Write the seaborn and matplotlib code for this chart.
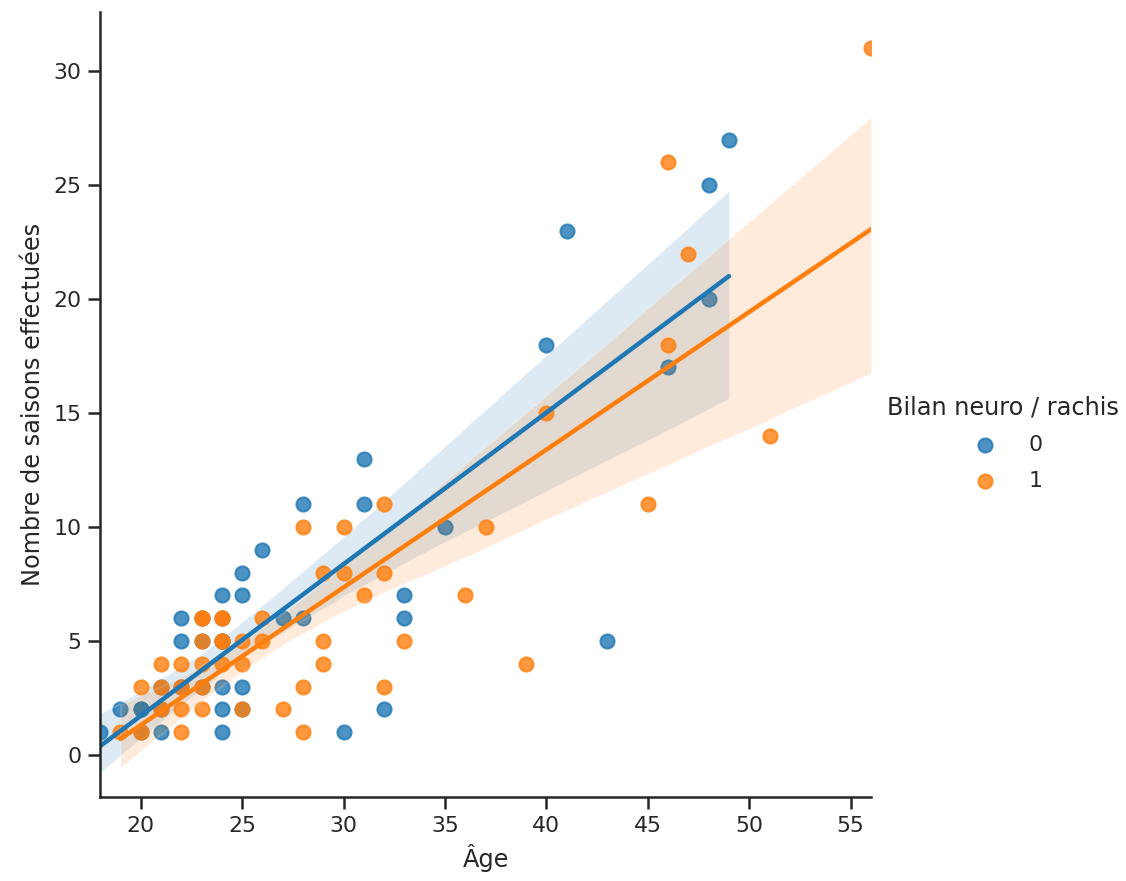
import numpy as np
import pandas as pd
import matplotlib
matplotlib.use("Agg")
import matplotlib.pyplot as plt
import seaborn as sns

# Group 0 (Bilan neuro / rachis = 0)
age_0 = [18, 19, 20, 20, 20, 21, 21, 21, 22, 22, 22, 23, 23, 23, 24, 24, 24,
         24, 24, 24, 24, 25, 25, 25, 25, 26, 27, 28, 28, 30, 31, 31, 32, 33, 33,
         35, 40, 41, 43, 46, 48, 48, 49]
seasons_0 = [1, 2, 1, 2, 2, 1, 2, 3, 3, 5, 6, 3, 5, 6, 1, 2, 3,
             5, 5, 6, 7, 2, 3, 7, 8, 9, 6, 6, 11, 1, 11, 13, 2, 6, 7,
             10, 18, 23, 5, 17, 20, 25, 27]

# Group 1 (Bilan neuro / rachis = 1)
age_1 = [19, 20, 20, 21, 21, 21, 22, 22, 22, 22, 23, 23, 23, 23, 23, 23, 24, 24,
         24, 24, 24, 25, 25, 25, 26, 26, 27, 28, 28, 28, 29, 29, 29, 30, 30, 31,
         32, 32, 32, 33, 36, 37, 39, 40, 45, 46, 46, 47, 51, 56]
seasons_1 = [1, 1, 3, 2, 3, 4, 1, 2, 3, 4, 2, 3, 4, 5, 6, 6, 4, 5,
             5, 6, 6, 2, 4, 5, 5, 6, 2, 1, 3, 10, 4, 5, 8, 8, 10, 7,
             3, 8, 11, 5, 7, 10, 4, 15, 11, 18, 26, 22, 14, 31]

df = pd.DataFrame({
    "Âge": age_0 + age_1,
    "Nombre de saisons effectuées": seasons_0 + seasons_1,
    "Bilan neuro / rachis": [0] * len(age_0) + [1] * len(age_1),
})

sns.set_theme(context="notebook", style="ticks", palette="tab10")
plt.rcParams["font.family"] = ["DejaVu Sans"]
plt.rcParams["legend.labelspacing"] = 0.7
plt.rcParams["legend.handletextpad"] = 1.0

g = sns.lmplot(data=df, x="Âge", y="Nombre de saisons effectuées",
               hue="Bilan neuro / rachis", height=6, aspect=1, seed=3,
               scatter_kws={"s": 50})
fig = g.figure
fig.set_size_inches(1126 / 144, 881 / 144)
ax = g.ax
ax.set_xlim(18, 56)
ax.set_ylim(-1.85, 32.6)
ax.set_xticks([20, 25, 30, 35, 40, 45, 50, 55])
ax.set_yticks([0, 5, 10, 15, 20, 25, 30])
fig.subplots_adjust(left=0.089, right=0.7735, bottom=0.0953, top=0.9864)
leg = g._legend
leg.set_bbox_to_anchor((0.770, 0.497, 0.2, 0.0), transform=fig.transFigure)
leg._loc = 6
fig.savefig("out.png", dpi=144)
